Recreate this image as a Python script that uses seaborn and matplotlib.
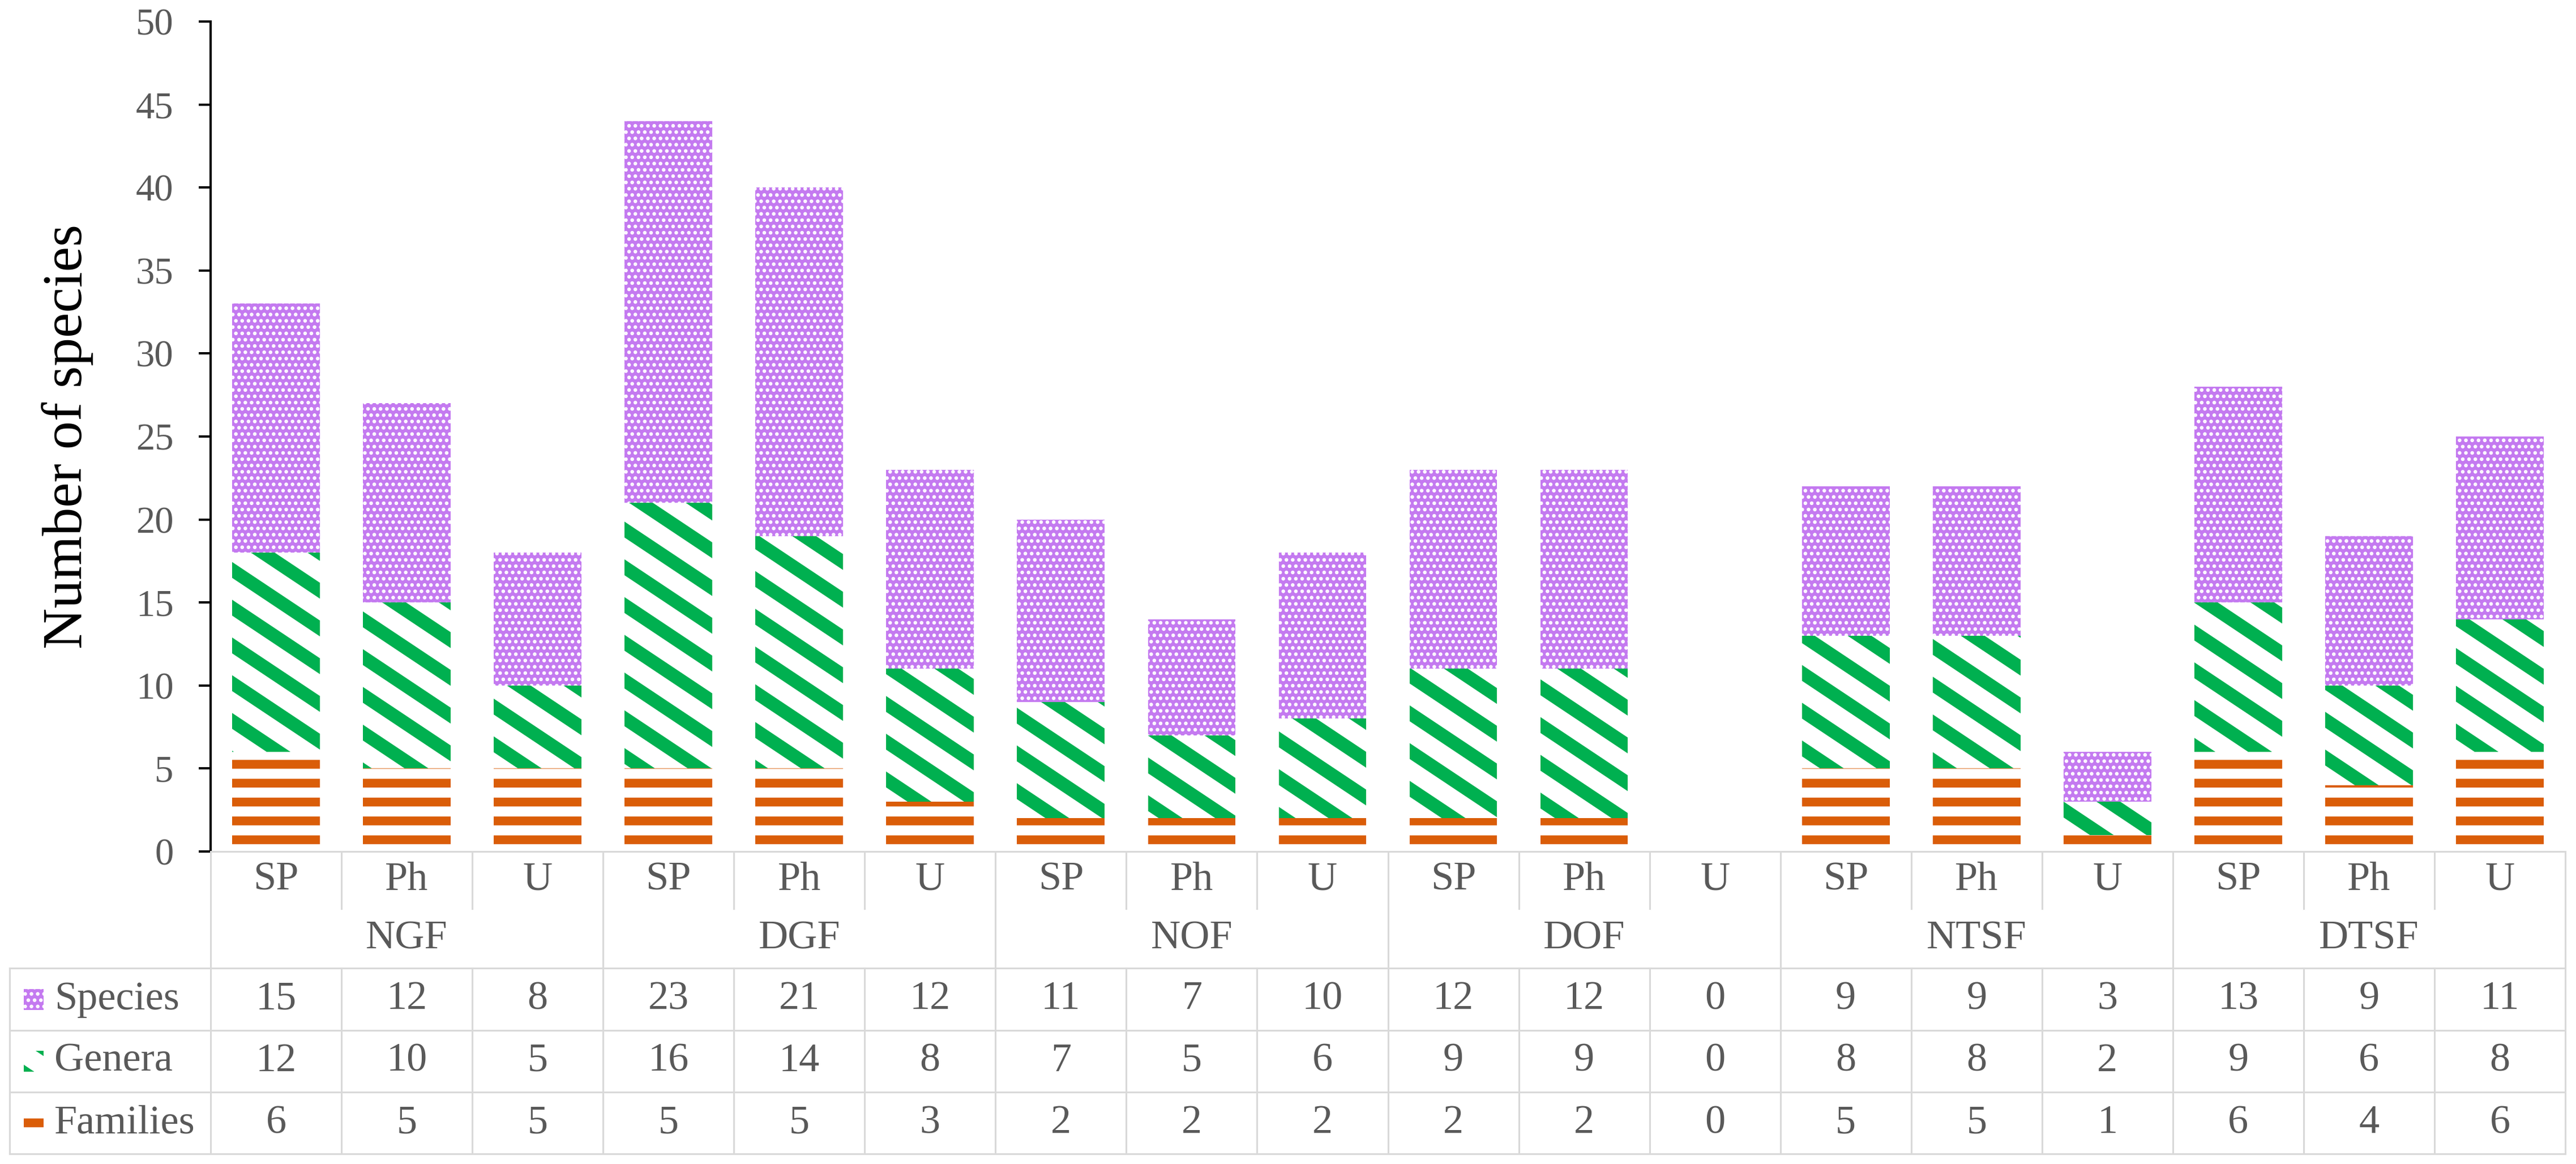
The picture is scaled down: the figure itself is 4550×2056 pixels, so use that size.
import warnings
warnings.filterwarnings('ignore')
import numpy as np
import pandas as pd
import matplotlib
matplotlib.use('Agg')
import matplotlib.pyplot as plt
import matplotlib.hatch as mhatch
import matplotlib.transforms as mtransforms
from matplotlib.path import Path
from matplotlib.patches import Rectangle
import seaborn as sns

# ---------------- data ----------------
groups = ['NGF', 'DGF', 'NOF', 'DOF', 'NTSF', 'DTSF']
subcats = ['SP', 'Ph', 'U']
species = [15, 12, 8, 23, 21, 12, 11, 7, 10, 12, 12, 0, 9, 9, 3, 13, 9, 11]
genera = [12, 10, 5, 16, 14, 8, 7, 5, 6, 9, 9, 0, 8, 8, 2, 9, 6, 8]
families = [6, 5, 5, 5, 5, 3, 2, 2, 2, 2, 2, 0, 5, 5, 1, 6, 4, 6]
series_names = ['Species', 'Genera', 'Families']
yticks = list(range(0, 51, 5))

PURPLE = '#C47AF0'
GREEN = '#00B050'
ORANGE = '#DA5D08'
GRID = '#D9D9D9'
TXT = '#595959'


# shallower "wide downward diagonal" hatch replacing the 45 degree one
class ShallowSouthEastHatch(mhatch.HatchPatternBase):
    def __init__(self, hatch, density):
        self.num_lines = 12 if hatch.count('\\') else 0
        self.num_vertices = self.num_lines * 2

    def set_vertices_and_codes(self, vertices, codes):
        m = 2.0 / 3.0
        c = np.arange(-4, 8) / 3.0
        vertices[0::2, 0] = -0.25
        vertices[0::2, 1] = c + 0.25 * m
        vertices[1::2, 0] = 1.25
        vertices[1::2, 1] = c - 1.25 * m
        codes[0::2] = Path.MOVETO
        codes[1::2] = Path.LINETO


mhatch._hatch_types = [ShallowSouthEastHatch if t is mhatch.SouthEastHatch else t
                       for t in mhatch._hatch_types]

sns.set_theme(style='white')
plt.rcParams['font.family'] = ['Liberation Serif', 'DejaVu Serif']

W, H = 4550, 2056
DPI = 200
fig = plt.figure(figsize=(W / DPI, H / DPI), dpi=DPI)
fig.patch.set_facecolor('white')

AX_L, AX_R, AX_T, AX_B = 372, 4531, 38, 1504
ax = fig.add_axes([AX_L / W, 1 - AX_B / H, (AX_R - AX_L) / W, (AX_B - AX_T) / H])

cols = [f'{g}-{s}' for g in groups for s in subcats]
n = len(cols)
df = pd.DataFrame({'col': cols, 'Species': species, 'Genera': genera, 'Families': families})
df['fam_top'] = df['Families']
df['gen_top'] = df['Families'] + df['Genera']
df['spe_top'] = df['gen_top'] + df['Species']

STYLES = {
    'Species': dict(face=PURPLE, edge='white', hatch='...', hlw=1.5),
    'Genera': dict(face='white', edge=GREEN, hatch='\\', hlw=8.4),
    'Families': dict(face='white', edge=ORANGE, hatch='-', hlw=5.6),
}


def draw(ycol, st):
    plt.rcParams['hatch.linewidth'] = st['hlw']
    before = len(ax.patches)
    sns.barplot(data=df, x='col', y=ycol, order=cols, ax=ax, color=st['face'],
                saturation=1, width=0.67, edgecolor=st['edge'], linewidth=0,
                hatch=st['hatch'], errorbar=None)
    for p in ax.patches[before:]:
        if hasattr(p, 'set_hatch_linewidth'):
            p.set_hatch_linewidth(st['hlw'])


draw('spe_top', STYLES['Species'])
draw('gen_top', STYLES['Genera'])
draw('fam_top', STYLES['Families'])

ax.set_xlim(-0.5, n - 0.5)
ax.set_ylim(0, 50)
ax.set_yticks(yticks)
ax.set_xticks([])
ax.set_xlabel('')
ax.set_ylabel('Number of species', fontsize=36, color='black')
ax.yaxis.set_label_coords((165 - AX_L) / (AX_R - AX_L), 0.5)
for s in ['top', 'right', 'bottom']:
    ax.spines[s].set_visible(False)
ax.spines['left'].set_color('black')
ax.spines['left'].set_linewidth(1.45)
ax.tick_params(axis='y', direction='out', length=7.5, width=1.45, colors='black',
               labelcolor=TXT, labelsize=24, pad=16, left=True)
ax.grid(False)
ax.set_facecolor('none')

# ---------------- data table ----------------
TL = 17
row_edges = [1504, 1710, 1820, 1929, 2038]
sub_end = 1605
tax = fig.add_axes([TL / W, 1 - row_edges[-1] / H, (AX_R - TL) / W, (row_edges[-1] - row_edges[0]) / H])
tax.set_xlim(TL, AX_R)
tax.set_ylim(row_edges[-1], row_edges[0])
tax.axis('off')
trans = mtransforms.blended_transform_factory(ax.transData, tax.transData)
LW = 1.1
kw = dict(color=GRID, lw=LW, clip_on=False, solid_capstyle='projecting')

# vertical lines
for i in range(n + 1):
    x = i - 0.5
    if i % 3 == 0:
        tax.plot([x, x], [row_edges[0], row_edges[-1]], transform=trans, **kw)
    else:
        tax.plot([x, x], [row_edges[0], sub_end], transform=trans, **kw)
        tax.plot([x, x], [row_edges[1], row_edges[-1]], transform=trans, **kw)
tax.plot([TL, TL], [row_edges[1], row_edges[-1]], **kw)
# horizontal lines
tax.plot([-0.5, n - 0.5], [row_edges[0], row_edges[0]], transform=trans, **kw)
for y in row_edges[1:]:
    tax.plot([TL, AX_R], [y, y], **kw)

FS = 26
for i, c in enumerate(cols):
    tax.text(i, (row_edges[0] + sub_end) / 2, subcats[i % 3], transform=trans,
             ha='center', va='center', fontsize=FS, color=TXT)
for g, name in enumerate(groups):
    tax.text(3 * g + 1, (sub_end + row_edges[1]) / 2, name, transform=trans,
             ha='center', va='center', fontsize=FS, color=TXT)

series_vals = {'Species': species, 'Genera': genera, 'Families': families}
for r, name in enumerate(series_names):
    yc = (row_edges[r + 1] + row_edges[r + 2]) / 2
    for i, v in enumerate(series_vals[name]):
        tax.text(i, yc, str(v), transform=trans, ha='center', va='center',
                 fontsize=FS, color=TXT)
    st = STYLES[name]
    key = Rectangle((42, yc - 18.5), 35, 37, facecolor=st['face'], edgecolor=st['edge'],
                    linewidth=0, hatch=st['hatch'], clip_on=False)
    plt.rcParams['hatch.linewidth'] = st['hlw']
    if hasattr(key, 'set_hatch_linewidth'):
        key.set_hatch_linewidth(st['hlw'])
    tax.add_patch(key)
    tax.text(96, yc, name, ha='left', va='center', fontsize=FS, color=TXT)

fig.savefig('out.png', dpi=DPI, facecolor='white')
